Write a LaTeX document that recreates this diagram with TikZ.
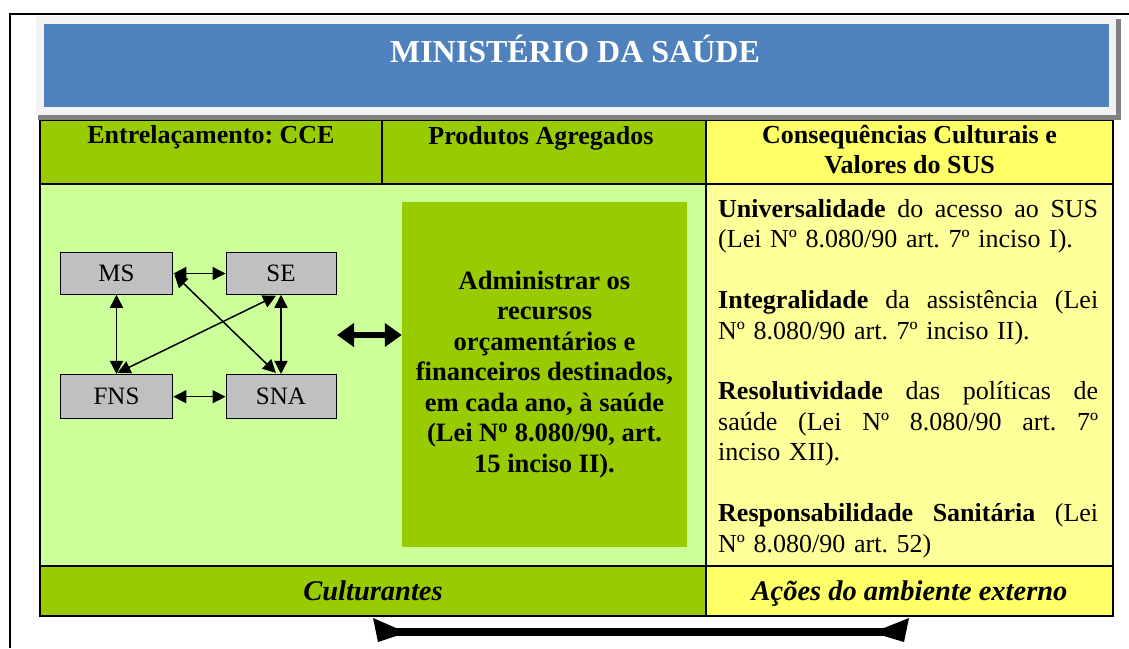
\documentclass[tikz,border=0pt]{standalone}
\usepackage{fontspec}
\setmainfont{Liberation Serif}
\usetikzlibrary{arrows.meta,calc}
\definecolor{msblue}{HTML}{4F81BD}
\definecolor{framegray}{HTML}{F2F2F2}
\definecolor{shadowgray}{HTML}{808080}
\definecolor{cgreen}{HTML}{99CC00}
\definecolor{lgreen}{HTML}{CCFF99}
\definecolor{cyellow}{HTML}{FFFF66}
\definecolor{lyellow}{HTML}{FFFF99}
\definecolor{boxgray}{HTML}{C0C0C0}
\frenchspacing
\newcommand{\jline}[1]{\leavevmode\hbox to 380pt{#1}}
\newcommand{\wsp}{\hfill\ }
\tikzset{
  cell/.style={draw=black, line width=1.5pt},
  gbox/.style={draw=black, fill=boxgray, line width=1pt, inner sep=0pt,
    font=\fontsize{25}{25}\selectfont},
  garrow/.style={line width=1.5pt,
    {Triangle[length=13pt,width=13pt]}-{Triangle[length=13pt,width=13pt]}},
  headtxt/.style={anchor=base, font=\bfseries\fontsize{26}{30}\selectfont, align=center},
  foottxt/.style={anchor=base, font=\bfseries\itshape\fontsize{28.5}{30}\selectfont}
}
\begin{document}
\begin{tikzpicture}[x=1pt,y=-1pt]
\useasboundingbox (0,0) rectangle (1129,648);
\fill[white] (0,0) rectangle (1129,648);
% outer frame
\draw[line width=1.5pt] (10,648) -- (10,14) -- (1129,14);
% table cells
\fill[cgreen] (40,120) rectangle (706,184);
\fill[cyellow] (706,120) rectangle (1113,184);
\fill[lgreen] (40,184) rectangle (706,566);
\fill[lyellow] (706,184) rectangle (1113,566);
\fill[cgreen] (40,566) rectangle (706,616);
\fill[cyellow] (706,566) rectangle (1113,616);
\draw[cell] (40,120) rectangle (1113,616);
\draw[cell] (382,120) -- (382,184);
\draw[cell] (706,120) -- (706,616);
\draw[cell] (40,184) -- (1113,184);
\draw[cell] (40,566) -- (1113,566);
% title
\fill[shadowgray] (38,19) rectangle (1121,120);
\fill[framegray] (36,16) rectangle (1116,115);
\node[fill=msblue, minimum width=1065pt, minimum height=82.5pt, inner sep=0pt] (title) at (576.5,65.25) {};
\node[anchor=base, text=white, font=\bfseries\fontsize{32}{36}\selectfont] (titletxt) at (575,62) {MINISTÉRIO DA SAÚDE};
% header texts
\node[headtxt] (h1) at (211,143) {Entrelaçamento: CCE};
\node[headtxt] (h2) at (541,144) {Produtos Agregados};
\node[headtxt] (h3) at (909.5,173) {Consequências Culturais e\\Valores do SUS};
% graph
\node[gbox, minimum width=112.7pt, minimum height=41.5pt] (ms) at (116.5,273.5) {MS};
\node[gbox, minimum width=110pt, minimum height=41.5pt] (se) at (281,273.5) {SE};
\node[gbox, minimum width=112.7pt, minimum height=44.5pt] (fns) at (116.5,396.7) {FNS};
\node[gbox, minimum width=110pt, minimum height=44.5pt] (sna) at (281,396.7) {SNA};
\draw[garrow] (ms.east) -- (se.west);
\draw[garrow] (fns.east) -- (sna.west);
\draw[garrow] (ms.south) -- (fns.north);
\draw[garrow] (se.south) -- (sna.north);
\draw[garrow] ($(ms.east)+(1,1)$) -- ($(sna.north)+(-5,-1)$);
\draw[garrow] ($(fns.north)+(1,-1)$) -- ($(se.south)+(-5,1)$);
% product box
\node[fill=cgreen, minimum width=285pt, minimum height=345pt, inner sep=0pt, align=center,
  font=\bfseries\fontsize{26.5}{30.5}\selectfont] (prod) at (544.5,374.5)
  {Administrar os\\recursos\\orçamentários e\\financeiros destinados,\\em cada ano, à saúde\\(Lei N\textsuperscript{o} 8.080/90, art.\\15 inciso II).};
\coordinate (ga) at (337,335);
\draw[line width=6pt, {Triangle[length=17pt,width=23pt]}-{Triangle[length=17pt,width=23pt]}] (ga) -- (prod.west |- ga);
% right text
\node[anchor=north west, text width=380pt, inner sep=0pt, align=left,
  font=\fontsize{26}{30.45}\selectfont] (vals) at (718,199) {%
\jline{\textbf{Universalidade}\wsp do\wsp acesso\wsp ao\wsp SUS}\\
(Lei Nº 8.080/90 art. 7º inciso I).\\
\mbox{}\\
\jline{\textbf{Integralidade}\wsp da\wsp assistência\wsp (Lei}\\
Nº 8.080/90 art. 7º inciso II).\\
\mbox{}\\
\jline{\textbf{Resolutividade}\wsp das\wsp políticas\wsp de}\\
\jline{saúde\wsp (Lei\wsp Nº\wsp 8.080/90\wsp art.\wsp 7º}\\
inciso XII).\\
\mbox{}\\
\jline{\textbf{Responsabilidade}\wsp\textbf{Sanitária}\wsp (Lei}\\
Nº 8.080/90 art. 52)};
% footer texts
\node[foottxt] (f1) at (373,600) {Culturantes};
\node[foottxt] (f2) at (909.5,600) {Ações do ambiente externo};
% bottom arrow
\fill (393,628) rectangle (887,636);
\fill (373,618) -- (396,628) -- (396,636) -- (378,642) -- cycle;
\fill (909,618) -- (884,628) -- (884,636) -- (904,642) -- cycle;
\end{tikzpicture}
\end{document}
